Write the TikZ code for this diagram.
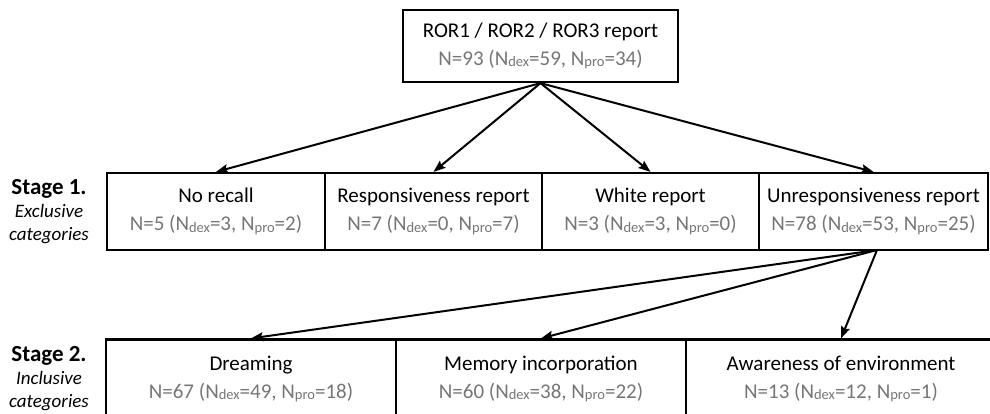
\documentclass[tikz,border=0pt]{standalone}
\usepackage{fontspec}
\setmainfont{Carlito}
\usetikzlibrary{arrows.meta}
\definecolor{countgray}{RGB}{118,118,118}
\newcommand\lowsub[1]{\raisebox{-0.06em}{\fontsize{14.5}{14.5}\selectfont #1}}
\newcommand\counts[4]{{\color{countgray}N=#1 (N\lowsub{dex}=#2, N\lowsub{pro}=#3)}}
\begin{document}
\begin{tikzpicture}[x=1pt,y=-1pt,
  catbox/.style={draw=black, line width=2.2pt, inner sep=0pt, align=center,
    font=\fontsize{21}{28}\selectfont, minimum height=77pt},
  stagelabel/.style={align=center, font=\fontsize{19}{23}\selectfont},
  flow/.style={line width=2pt, -{Stealth[length=12pt,width=9pt,inset=2pt]}}]
\useasboundingbox (0,0) rectangle (990,413);
\clip (0,0) rectangle (990,413);

% root
\node[catbox, minimum width=275pt, minimum height=72pt] (root) at (540.5,46)
  {ROR1 / ROR2 / ROR3 report\\ \counts{93}{59}{34}{}};

% stage 1: exclusive categories
\node[catbox, minimum width=218pt] (nr) at (216,211.5)
  {No recall\\ \counts{5}{3}{2}{}};
\node[catbox, minimum width=217pt] (rr) at (433.5,211.5)
  {Responsiveness report\\ \counts{7}{0}{7}{}};
\node[catbox, minimum width=217pt] (wr) at (650.5,211.5)
  {White report\\ \counts{3}{3}{0}{}};
\node[catbox, minimum width=229pt] (ur) at (873.5,211.5)
  {Unresponsiveness report\\ \counts{78}{53}{25}{}};

% stage 2: inclusive categories
\node[catbox, minimum width=290pt, minimum height=79pt] (dr) at (251,379)
  {Dreaming\\ \counts{67}{49}{18}{}};
\node[catbox, minimum width=290pt, minimum height=79pt] (mi) at (541,379)
  {Memory incorporation\\ \counts{60}{38}{22}{}};
\node[catbox, minimum width=310pt, minimum height=79pt] (ae) at (841,379)
  {Awareness of environment\\ \counts{13}{12}{1}{}};

% stage labels
\node[stagelabel] (s1) at (49,212)
  {{\fontsize{23}{23}\selectfont\bfseries Stage 1.}\\ \itshape Exclusive\\ \itshape categories};
\node[stagelabel] (s2) at (49,379)
  {{\fontsize{23}{23}\selectfont\bfseries Stage 2.}\\ \itshape Inclusive\\ \itshape categories};

% connectors
\coordinate (fan2) at (877,250);
\foreach \t in {nr,rr,wr,ur} \draw[flow] (root.south) -- (\t.north);
\foreach \t in {dr,mi,ae} \draw[flow] (fan2) -- (\t.north);
\end{tikzpicture}
\end{document}
